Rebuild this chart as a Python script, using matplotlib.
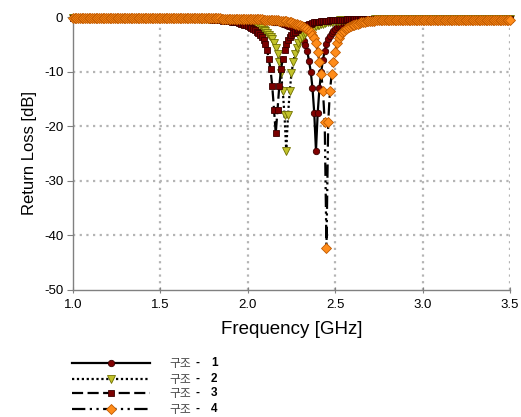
import numpy as np
import matplotlib
matplotlib.use("Agg")
import matplotlib.pyplot as plt
from matplotlib.lines import Line2D

plt.rcParams['font.family'] = ['Liberation Sans', 'Noto Sans CJK KR']
plt.rcParams['axes.unicode_minus'] = False

# frequency sweep 1.0 - 3.5 GHz, 0.01 GHz step
freq = np.round(np.arange(1.0, 3.5001, 0.01), 2)

# return loss [dB]
rl_1 = [
    -0.1, -0.1, -0.1, -0.1, -0.1, -0.1, -0.1, -0.1, -0.1, -0.1,
    -0.1, -0.1, -0.1, -0.1, -0.1, -0.1, -0.1, -0.1, -0.1, -0.1,
    -0.1, -0.1, -0.1, -0.1, -0.1, -0.1, -0.1, -0.1, -0.1, -0.1,
    -0.1, -0.1, -0.1, -0.1, -0.1, -0.1, -0.1, -0.1, -0.1, -0.1,
    -0.1, -0.1, -0.1, -0.1, -0.1, -0.1, -0.1, -0.1, -0.1, -0.1,
    -0.2, -0.2, -0.2, -0.2, -0.2, -0.2, -0.2, -0.2, -0.2, -0.2,
    -0.2, -0.2, -0.2, -0.2, -0.2, -0.2, -0.2, -0.2, -0.2, -0.2,
    -0.2, -0.2, -0.2, -0.2, -0.2, -0.2, -0.2, -0.2, -0.2, -0.3,
    -0.3, -0.3, -0.3, -0.3, -0.3, -0.3, -0.3, -0.3, -0.3, -0.3,
    -0.3, -0.3, -0.3, -0.3, -0.4, -0.4, -0.4, -0.4, -0.4, -0.4,
    -0.4, -0.4, -0.4, -0.5, -0.5, -0.5, -0.6, -0.6, -0.6, -0.6,
    -0.7, -0.7, -0.7, -0.8, -0.8, -0.9, -0.9, -1.0, -1.0, -1.1,
    -1.2, -1.3, -1.4, -1.6, -1.7, -1.9, -2.1, -2.3, -2.6, -2.9,
    -3.2, -3.7, -4.4, -5.2, -6.3, -8.0, -10.0, -13.0, -17.5, -24.5,
    -17.5, -13.0, -10.0, -7.8, -6.2, -5.0, -4.1, -3.4, -2.9, -2.5,
    -2.2, -1.9, -1.7, -1.5, -1.4, -1.3, -1.2, -1.1, -1.0, -0.9,
    -0.8, -0.8, -0.8, -0.7, -0.7, -0.7, -0.7, -0.6, -0.6, -0.6,
    -0.6, -0.6, -0.5, -0.5, -0.5, -0.5, -0.5, -0.5, -0.5, -0.5,
    -0.5, -0.5, -0.5, -0.5, -0.5, -0.5, -0.5, -0.5, -0.5, -0.5,
    -0.4, -0.4, -0.4, -0.4, -0.4, -0.4, -0.4, -0.4, -0.4, -0.4,
    -0.4, -0.4, -0.4, -0.4, -0.4, -0.4, -0.4, -0.4, -0.4, -0.4,
    -0.4, -0.4, -0.4, -0.4, -0.4, -0.4, -0.4, -0.4, -0.4, -0.4,
    -0.4, -0.4, -0.4, -0.4, -0.4, -0.4, -0.4, -0.4, -0.4, -0.4,
    -0.4, -0.4, -0.4, -0.4, -0.4, -0.4, -0.4, -0.4, -0.4, -0.4,
    -0.4, -0.4, -0.4, -0.4, -0.4, -0.4, -0.4, -0.4, -0.4, -0.4,
    -0.4,
]

rl_2 = [
    -0.1, -0.1, -0.1, -0.1, -0.1, -0.1, -0.1, -0.1, -0.1, -0.1,
    -0.1, -0.1, -0.1, -0.1, -0.1, -0.1, -0.1, -0.1, -0.1, -0.1,
    -0.1, -0.1, -0.1, -0.1, -0.1, -0.1, -0.1, -0.1, -0.1, -0.1,
    -0.2, -0.2, -0.2, -0.2, -0.2, -0.2, -0.2, -0.2, -0.2, -0.2,
    -0.2, -0.2, -0.2, -0.2, -0.2, -0.2, -0.2, -0.2, -0.2, -0.2,
    -0.2, -0.2, -0.2, -0.2, -0.2, -0.2, -0.2, -0.2, -0.2, -0.2,
    -0.2, -0.2, -0.2, -0.2, -0.2, -0.2, -0.2, -0.2, -0.2, -0.2,
    -0.2, -0.2, -0.3, -0.3, -0.3, -0.3, -0.3, -0.3, -0.3, -0.3,
    -0.3, -0.3, -0.4, -0.4, -0.4, -0.4, -0.5, -0.5, -0.5, -0.6,
    -0.6, -0.6, -0.7, -0.7, -0.8, -0.8, -0.9, -0.9, -1.0, -1.0,
    -1.1, -1.2, -1.3, -1.4, -1.5, -1.6, -1.8, -1.9, -2.1, -2.4,
    -2.6, -2.9, -3.3, -3.6, -4.1, -4.8, -5.6, -6.7, -8.2, -10.3,
    -13.5, -18.0, -24.5, -18.0, -13.5, -10.3, -8.2, -6.7, -5.6, -4.8,
    -4.1, -3.6, -3.3, -2.9, -2.6, -2.4, -2.1, -1.9, -1.8, -1.6,
    -1.5, -1.4, -1.3, -1.2, -1.1, -1.0, -1.0, -0.9, -0.9, -0.8,
    -0.8, -0.7, -0.7, -0.6, -0.6, -0.6, -0.5, -0.5, -0.5, -0.5,
    -0.5, -0.5, -0.5, -0.5, -0.5, -0.5, -0.5, -0.5, -0.5, -0.5,
    -0.5, -0.5, -0.5, -0.4, -0.4, -0.4, -0.4, -0.4, -0.4, -0.4,
    -0.4, -0.4, -0.4, -0.4, -0.4, -0.4, -0.4, -0.4, -0.4, -0.4,
    -0.4, -0.4, -0.4, -0.4, -0.4, -0.4, -0.4, -0.4, -0.4, -0.4,
    -0.4, -0.4, -0.4, -0.4, -0.4, -0.4, -0.4, -0.4, -0.4, -0.4,
    -0.4, -0.4, -0.4, -0.4, -0.4, -0.4, -0.4, -0.4, -0.4, -0.4,
    -0.4, -0.4, -0.4, -0.4, -0.4, -0.4, -0.4, -0.4, -0.4, -0.4,
    -0.4, -0.4, -0.4, -0.4, -0.4, -0.4, -0.4, -0.4, -0.4, -0.4,
    -0.4, -0.4, -0.4, -0.4, -0.4, -0.4, -0.4, -0.4, -0.4, -0.4,
    -0.4,
]

rl_3 = [
    -0.1, -0.1, -0.1, -0.1, -0.1, -0.1, -0.1, -0.1, -0.1, -0.1,
    -0.1, -0.1, -0.1, -0.1, -0.1, -0.1, -0.1, -0.1, -0.1, -0.1,
    -0.1, -0.1, -0.1, -0.1, -0.1, -0.1, -0.1, -0.1, -0.1, -0.1,
    -0.2, -0.2, -0.2, -0.2, -0.2, -0.2, -0.2, -0.2, -0.2, -0.2,
    -0.2, -0.2, -0.2, -0.2, -0.2, -0.2, -0.2, -0.2, -0.2, -0.2,
    -0.2, -0.2, -0.2, -0.2, -0.2, -0.2, -0.2, -0.2, -0.2, -0.2,
    -0.2, -0.2, -0.2, -0.2, -0.2, -0.2, -0.3, -0.3, -0.3, -0.3,
    -0.3, -0.3, -0.3, -0.3, -0.3, -0.3, -0.4, -0.4, -0.4, -0.4,
    -0.5, -0.5, -0.5, -0.6, -0.6, -0.6, -0.7, -0.7, -0.7, -0.8,
    -0.8, -0.9, -0.9, -1.0, -1.0, -1.1, -1.2, -1.3, -1.4, -1.5,
    -1.7, -1.8, -2.0, -2.2, -2.4, -2.7, -3.0, -3.3, -3.7, -4.3,
    -5.0, -6.0, -7.7, -9.6, -12.7, -17.0, -21.3, -17.0, -12.7, -9.6,
    -7.7, -6.0, -5.0, -4.3, -3.7, -3.3, -3.0, -2.7, -2.4, -2.2,
    -2.0, -1.8, -1.7, -1.5, -1.4, -1.3, -1.2, -1.1, -1.0, -1.0,
    -0.9, -0.9, -0.8, -0.8, -0.7, -0.7, -0.7, -0.6, -0.6, -0.6,
    -0.5, -0.5, -0.5, -0.5, -0.5, -0.5, -0.5, -0.4, -0.4, -0.4,
    -0.4, -0.4, -0.4, -0.4, -0.4, -0.4, -0.4, -0.4, -0.4, -0.4,
    -0.4, -0.4, -0.4, -0.4, -0.4, -0.4, -0.4, -0.4, -0.4, -0.4,
    -0.4, -0.4, -0.4, -0.4, -0.4, -0.4, -0.4, -0.4, -0.4, -0.4,
    -0.4, -0.4, -0.4, -0.4, -0.4, -0.4, -0.4, -0.4, -0.4, -0.4,
    -0.4, -0.4, -0.4, -0.4, -0.4, -0.4, -0.4, -0.4, -0.4, -0.4,
    -0.4, -0.4, -0.4, -0.4, -0.4, -0.4, -0.4, -0.4, -0.4, -0.4,
    -0.4, -0.4, -0.4, -0.4, -0.4, -0.4, -0.4, -0.4, -0.4, -0.4,
    -0.4, -0.4, -0.4, -0.4, -0.4, -0.4, -0.4, -0.4, -0.4, -0.4,
    -0.4, -0.4, -0.4, -0.4, -0.4, -0.4, -0.4, -0.4, -0.4, -0.4,
    -0.4,
]

rl_4 = [
    -0.1, -0.1, -0.1, -0.1, -0.1, -0.1, -0.1, -0.1, -0.1, -0.1,
    -0.1, -0.1, -0.1, -0.1, -0.1, -0.1, -0.1, -0.1, -0.1, -0.1,
    -0.1, -0.1, -0.1, -0.1, -0.1, -0.1, -0.1, -0.1, -0.1, -0.1,
    -0.1, -0.1, -0.1, -0.1, -0.1, -0.1, -0.1, -0.1, -0.1, -0.1,
    -0.1, -0.1, -0.1, -0.1, -0.1, -0.1, -0.1, -0.1, -0.1, -0.1,
    -0.1, -0.1, -0.1, -0.1, -0.1, -0.2, -0.2, -0.2, -0.2, -0.2,
    -0.2, -0.2, -0.2, -0.2, -0.2, -0.2, -0.2, -0.2, -0.2, -0.2,
    -0.2, -0.2, -0.2, -0.2, -0.2, -0.2, -0.2, -0.2, -0.2, -0.2,
    -0.2, -0.2, -0.2, -0.2, -0.2, -0.3, -0.3, -0.3, -0.3, -0.3,
    -0.3, -0.3, -0.3, -0.3, -0.3, -0.3, -0.3, -0.3, -0.3, -0.3,
    -0.4, -0.4, -0.4, -0.4, -0.4, -0.4, -0.4, -0.4, -0.4, -0.5,
    -0.5, -0.5, -0.5, -0.5, -0.5, -0.6, -0.6, -0.6, -0.7, -0.7,
    -0.7, -0.8, -0.8, -0.9, -0.9, -1.0, -1.1, -1.2, -1.3, -1.4,
    -1.5, -1.6, -1.8, -2.0, -2.2, -2.5, -2.8, -3.3, -3.9, -4.8,
    -6.4, -8.2, -10.4, -13.5, -19.3, -42.3, -19.3, -13.5, -10.4, -8.2,
    -6.4, -4.8, -3.9, -3.3, -2.8, -2.5, -2.2, -2.0, -1.8, -1.6,
    -1.5, -1.4, -1.3, -1.2, -1.1, -1.0, -0.9, -0.9, -0.8, -0.8,
    -0.7, -0.7, -0.7, -0.6, -0.6, -0.6, -0.6, -0.6, -0.5, -0.5,
    -0.5, -0.5, -0.5, -0.5, -0.5, -0.5, -0.5, -0.5, -0.5, -0.5,
    -0.5, -0.5, -0.5, -0.5, -0.5, -0.5, -0.5, -0.5, -0.5, -0.5,
    -0.5, -0.5, -0.5, -0.5, -0.5, -0.5, -0.5, -0.5, -0.5, -0.5,
    -0.5, -0.5, -0.5, -0.5, -0.5, -0.5, -0.5, -0.5, -0.5, -0.5,
    -0.5, -0.5, -0.5, -0.5, -0.5, -0.5, -0.5, -0.5, -0.5, -0.5,
    -0.5, -0.5, -0.5, -0.5, -0.5, -0.5, -0.5, -0.5, -0.5, -0.5,
    -0.5, -0.5, -0.5, -0.5, -0.5, -0.5, -0.5, -0.5, -0.5, -0.5,
    -0.5,
]

labels = ['1', '2', '3', '4']
x_ticks = [1.0, 1.5, 2.0, 2.5, 3.0, 3.5]
y_ticks = [-50, -40, -30, -20, -10, 0]

# style per structure: line style, marker, face colour, edge colour, size
styles = [
    ('-', 'o', '#800000', '#3a0000', 4.6),
    ((0, (1, 1.2)), 'v', '#c2c22a', '#707000', 5.4),
    ((0, (5, 2)), 's', '#7a0000', '#3a0000', 4.6),
    ((0, (6, 2, 1, 2, 1, 2)), 'D', '#ff8c1a', '#c05a00', 4.6),
]

fig = plt.figure(figsize=(5.21, 4.17), dpi=100)
ax = fig.add_axes([0.1401, 0.3046, 0.8388, 0.6546])

for rl, (ls, mk, fc, ec, ms) in zip([rl_1, rl_2, rl_3, rl_4], styles):
    assert len(rl) == len(freq)
    ax.plot(freq, rl, color='black', linestyle=ls, lw=1.6, marker=mk,
            markersize=ms, markerfacecolor=fc, markeredgecolor=ec,
            markeredgewidth=0.6, clip_on=False, zorder=3)

ax.set_xlim(1.0, 3.5)
ax.set_ylim(-50, 0)
ax.set_xticks(x_ticks)
ax.set_xticklabels(['%.1f' % t for t in x_ticks])
ax.set_yticks(y_ticks)
ax.set_yticklabels([str(t) for t in y_ticks])

for v in [-40, -30, -20, -10]:
    ax.axhline(v, color='#b4b4b4', lw=1.6, ls=(0, (1, 2)), zorder=1)
for v in [1.5, 2.0, 2.5, 3.0, 3.5]:
    ax.axvline(v, color='#b4b4b4', lw=1.6, ls=(0, (1, 2)), zorder=1)

for s in ['top', 'right']:
    ax.spines[s].set_visible(False)
for s in ['left', 'bottom']:
    ax.spines[s].set_color('#808080')
    ax.spines[s].set_linewidth(1.0)
ax.tick_params(axis='y', direction='out', length=4, color='#808080',
               labelsize=9.5, pad=3)
ax.tick_params(axis='x', direction='inout', length=5, color='#808080',
               labelsize=9.5, pad=4)

ax.set_xlabel('Frequency [GHz]', fontsize=13.5, labelpad=7)
ax.set_ylabel('Return Loss [dB]', fontsize=12, labelpad=5)

# legend below the plot
leg_y = [363, 379, 393, 409]
for lab, (ls, mk, fc, ec, ms), yp in zip(labels, styles, leg_y):
    yf = 1 - yp / 417
    fig.add_artist(Line2D([72 / 521, 150 / 521], [yf, yf], transform=fig.transFigure,
                          color='black', linestyle=ls, lw=1.6))
    fig.add_artist(Line2D([111 / 521], [yf], transform=fig.transFigure,
                          marker=mk, markersize=ms, markerfacecolor=fc,
                          markeredgecolor=ec, markeredgewidth=0.6, linestyle='none'))
    fig.text(169 / 521, yf, '구조', family=['Noto Sans CJK KR'], fontsize=8.5,
             color='#444444', va='center')
    fig.text(195 / 521, yf, '-', fontsize=8.5, fontweight='bold', va='center')
    fig.text(211 / 521, yf, lab, fontsize=8.5, fontweight='bold', va='center')

fig.savefig('out.png', dpi=100)
